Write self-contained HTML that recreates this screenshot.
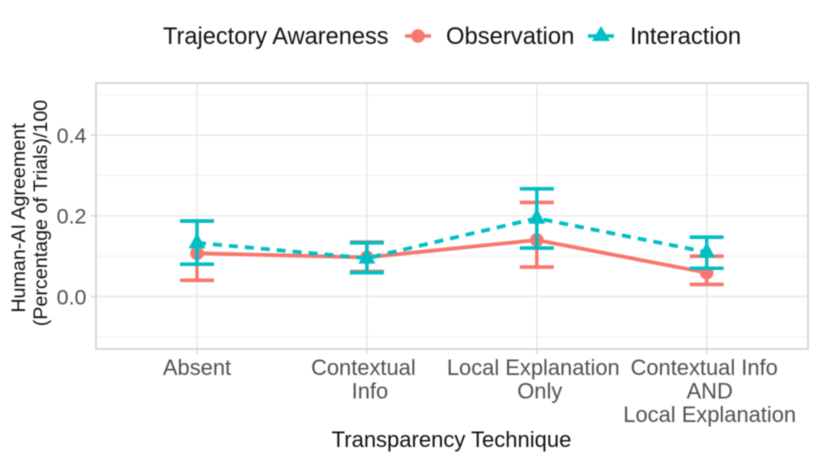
<!DOCTYPE html>
<html>
<head>
<meta charset="utf-8">
<style>
html,body{margin:0;padding:0;background:#fff;width:821px;height:467px;overflow:hidden}
svg{display:block;filter:blur(0.55px)}
text{font-family:"Liberation Sans",Arial,sans-serif}
</style>
</head>
<body>
<svg id="chart" width="821" height="467" viewBox="0 0 821 467" xmlns="http://www.w3.org/2000/svg">
  <g id="grid"></g>
  <g id="marks"></g>
  <rect x="96" y="83" width="712" height="266" fill="none" stroke="#cfcfcf" stroke-width="1.5"/>
  <g id="axes"></g>
  <text transform="translate(25,218) rotate(-90)" text-anchor="middle" font-size="19.7" fill="#111">Human-AI Agreement</text>
  <text transform="translate(47,213) rotate(-90)" text-anchor="middle" font-size="19.7" fill="#111">(Percentage of Trials)/100</text>
  <text x="451.5" y="447" text-anchor="middle" font-size="22" fill="#111">Transparency Technique</text>
  <g>
    <text x="163" y="44" font-size="23.6" fill="#111">Trajectory Awareness</text>
    <g>
      <line x1="405" x2="431" y1="36" y2="36" stroke="#F8766D" stroke-width="3.6"/>
      <circle cx="418" cy="36" r="6.8" fill="#F8766D"/>
      <text x="446" y="44" font-size="23.8" fill="#111">Observation</text>
    </g>
    <g>
      <line x1="588" x2="614" y1="36" y2="36" stroke="#00BFC4" stroke-width="3.6"/>
      <polygon points="601,26 610,41 592,41" fill="#00BFC4"/>
      <text x="630" y="44" font-size="23.8" fill="#111">Interaction</text>
    </g>
  </g>
</svg>
<script>
const categories = [["Absent"], ["Contextual", "Info"], ["Local Explanation", "Only"], ["Contextual Info", "AND", "Local Explanation"]];
const yTicks = [0.0, 0.2, 0.4];
const yMinorTicks = [-0.1, 0.1, 0.3, 0.5];
const observationMean = [0.107, 0.097, 0.14, 0.059];
const observationLow = [0.04, 0.062, 0.073, 0.03];
const observationHigh = [0.187, 0.135, 0.233, 0.1];
const interactionMean = [0.133, 0.095, 0.194, 0.11];
const interactionLow = [0.08, 0.059, 0.12, 0.07];
const interactionHigh = [0.187, 0.133, 0.267, 0.147];

const NS = "http://www.w3.org/2000/svg";
const RED = "#F8766D", TEAL = "#00BFC4";
function xPos(i) { return 197 + i * 169.9; }
function yPos(v) { return 296.5 - v * 403.5; }
function labelCentre(txt, i, j) {
  if (i === 0) return xPos(i);
  if (j === 0) return xPos(i) - (i === 3 ? 2.5 : 3.5);
  return xPos(i) + 3;
}
function make(parent, tag, attrs) {
  const el = document.createElementNS(NS, tag);
  for (const k in attrs) el.setAttribute(k, attrs[k]);
  parent.appendChild(el);
  return el;
}
const grid = document.getElementById("grid");
const marks = document.getElementById("marks");
const axes = document.getElementById("axes");

yMinorTicks.forEach(function (t) {
  const el = make(grid, "line", { x1: 96, x2: 808, y1: yPos(t), y2: yPos(t), stroke: "#f1f1f1", "stroke-width": 1 });
  
  
});
yTicks.forEach(function (t) {
  const el = make(grid, "line", { x1: 96, x2: 808, y1: yPos(t), y2: yPos(t), stroke: "#e8e8e8", "stroke-width": 1.4 });
  
  
  const tick = make(axes, "line", { x1: 91, x2: 96, y1: yPos(t), y2: yPos(t), stroke: "#cfcfcf", "stroke-width": 1.2 });
  
  
  const label = make(axes, "text", { x: 86.5, y: yPos(t) + 7.8, "text-anchor": "end", "font-size": 21.5, fill: "#505050" });
  
  
  label.textContent = t.toFixed(1);
});
categories.forEach(function (lines, i) {
  const g = make(grid, "line", { x1: xPos(i), x2: xPos(i), y1: 83, y2: 349, stroke: "#e8e8e8", "stroke-width": 1.4 });
  
  
  const tick = make(axes, "line", { x1: xPos(i), x2: xPos(i), y1: 349, y2: 354, stroke: "#cfcfcf", "stroke-width": 1.2 });
  
  
  lines.forEach(function (txt, j) {
    const label = make(axes, "text", { x: labelCentre(txt, i, j), y: 375 + j * 23.6, "text-anchor": "middle", "font-size": 21.9, fill: "#505050" });
    
    
    label.textContent = txt;
  });
});

function errorBars(low, high, color, name) {
  low.forEach(function (v, i) {
    const x = xPos(i);
    const stem = make(marks, "line", { x1: x, x2: x, y1: yPos(v), y2: yPos(high[i]), stroke: color, "stroke-width": 3.4 });
    
    
    [v, high[i]].forEach(function (c) {
      const cap = make(marks, "line", { x1: x - 17, x2: x + 17, y1: yPos(c), y2: yPos(c), stroke: color, "stroke-width": 3.6 });
      
      
    });
  });
}
function seriesLine(vals, color, name, dash) {
  const attrs = { points: vals.map(function (v, i) { return xPos(i) + "," + yPos(v); }).join(" "), fill: "none", stroke: color, "stroke-width": 3.8 };
  if (dash) attrs["stroke-dasharray"] = dash;
  const el = make(marks, "polyline", attrs);
  
  
}

seriesLine(observationMean, RED, "observation", null);
observationMean.forEach(function (v, i) {
  const p = make(marks, "circle", { cx: xPos(i), cy: yPos(v), r: 6.8, fill: RED });
  
  
});
errorBars(observationLow, observationHigh, RED, "observation");
errorBars(interactionLow, interactionHigh, TEAL, "interaction");
seriesLine(interactionMean, TEAL, "interaction", "9 7");
interactionMean.forEach(function (v, i) {
  const x = xPos(i), y = yPos(v);
  const p = make(marks, "polygon", { points: x + "," + (y - 10) + " " + (x + 8.5) + "," + (y + 5.5) + " " + (x - 8.5) + "," + (y + 5.5), fill: TEAL });
  
  
});
</script>
</body>
</html>
